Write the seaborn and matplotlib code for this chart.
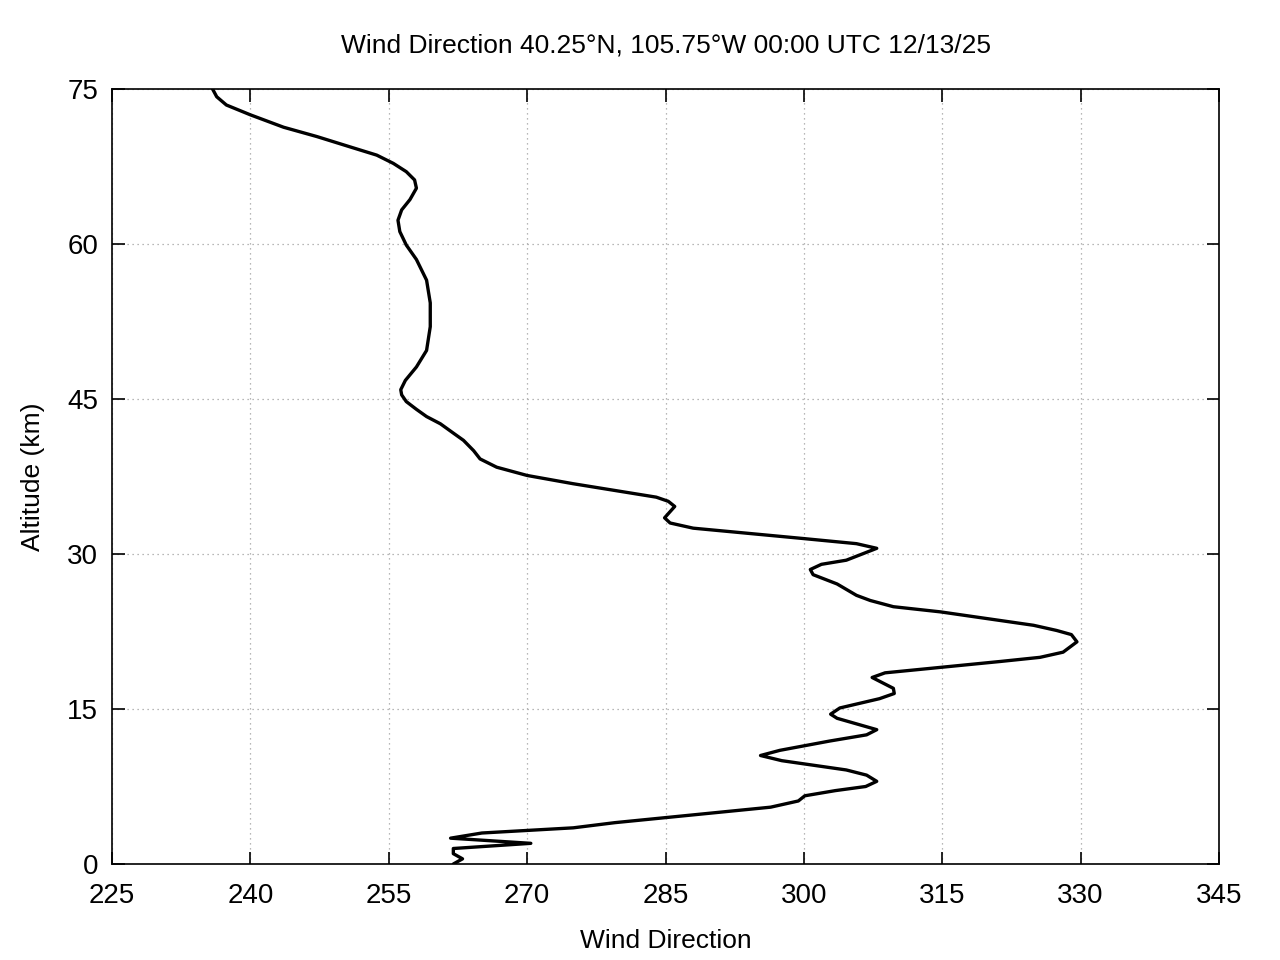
import matplotlib
matplotlib.use("Agg")
import matplotlib.pyplot as plt
import seaborn as sns
import pandas as pd

altitude_km = [0.0, 0.5, 1.0, 1.5, 2.0, 2.5, 3.0, 3.5, 4.0, 5.5, 6.1, 6.6, 7.1, 7.5, 8.0,
               8.6, 9.1, 10.0, 10.5, 11.0, 11.9, 12.5, 13.0, 14.1, 14.5, 15.1, 16.0, 16.5,
               17.0, 18.05, 18.5, 19.6, 20.0, 20.5, 21.5, 22.2, 22.6, 23.1, 24.4, 24.9,
               25.5, 26.0, 27.1, 28.0, 28.5, 29.0, 29.4, 30.55, 31.0, 31.5, 32.5, 33.0,
               33.5, 34.6, 35.1, 35.5, 36.8, 37.6, 38.4, 39.2, 40.0, 41.0, 41.7, 42.6,
               43.3, 44.0, 44.75, 45.4, 45.9, 46.8, 48.1, 49.7, 52.0, 54.3, 56.5, 58.5,
               59.9, 61.2, 62.3, 63.3, 64.3, 65.4, 66.2, 67.0, 67.8, 68.6, 69.4, 70.4,
               71.3, 72.5, 73.45, 74.25, 75.0]
wind_direction = [262.0, 263.0, 262.0, 262.0, 270.4, 261.7, 265.1, 275.0, 279.5, 296.4,
                  299.4, 300.1, 303.4, 306.7, 307.9, 306.8, 304.6, 297.6, 295.3, 297.4,
                  302.8, 306.8, 307.9, 303.6, 302.9, 303.9, 308.2, 309.8, 309.7, 307.4,
                  308.8, 321.3, 325.6, 328.1, 329.6, 329.0, 327.4, 324.9, 314.8, 309.7,
                  307.2, 305.7, 303.6, 301.0, 300.7, 301.9, 304.6, 307.9, 305.7, 299.9,
                  288.0, 285.5, 284.9, 286.0, 285.3, 284.0, 275.0, 270.0, 266.7, 264.9,
                  264.2, 263.1, 262.0, 260.6, 259.1, 258.0, 256.9, 256.4, 256.3, 256.8,
                  258.0, 259.1, 259.5, 259.5, 259.1, 258.0, 256.9, 256.2, 256.0, 256.4,
                  257.3, 258.0, 257.8, 256.9, 255.5, 253.7, 250.8, 247.2, 243.6, 240.0,
                  237.4, 236.35, 235.9]

x_ticks = [225, 240, 255, 270, 285, 300, 315, 330, 345]
y_ticks = [0, 15, 30, 45, 60, 75]
title = "Wind Direction 40.25°N, 105.75°W 00:00 UTC 12/13/25"

df = pd.DataFrame({"alt": altitude_km, "dir": wind_direction})

sns.set_theme(style="white")
plt.rcParams['font.family'] = ['Liberation Sans', 'DejaVu Sans']

fig = plt.figure(figsize=(12.8, 9.6), dpi=100)
ax = fig.add_axes([112/1280, 96/960, (1219-112)/1280, (864-89)/960])

sns.lineplot(data=df, x="dir", y="alt", sort=False, orient="y", color="black",
             linewidth=2.4, ax=ax, estimator=None)
ax.lines[0].set_solid_joinstyle("round")

ax.set_xlim(225, 345)
ax.set_ylim(0, 75)
ax.set_xticks(x_ticks)
ax.set_yticks(y_ticks)
ax.grid(True, color="#a0a0a0", linestyle=(0, (1, 3)), linewidth=0.9)
for s in ax.spines.values():
    s.set_color("black")
    s.set_linewidth(1.2)
ax.tick_params(direction="in", length=9, width=1.2, color="black",
               top=True, right=True, bottom=True, left=True,
               labelsize=20, labelcolor="black")
ax.tick_params(axis="x", pad=14)
ax.tick_params(axis="y", pad=10)
ax.set_xlabel("Wind Direction", fontsize=19, labelpad=14, color="black")
ax.set_ylabel("Altitude (km)", fontsize=19, labelpad=16, color="black")
fig.text(666/1280, 1 - 46/960, title, ha="center", va="center", fontsize=19, color="black")

fig.savefig("out.png", dpi=100, facecolor="white")
